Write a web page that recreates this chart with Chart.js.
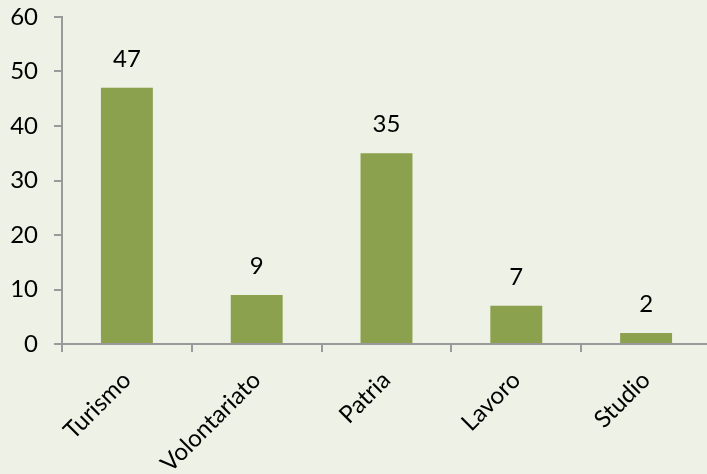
<!DOCTYPE html>
<html>
<head>
<meta charset="utf-8">
<script src="https://cdn.jsdelivr.net/npm/chart.js@4/dist/chart.umd.min.js"></script>
<style>
  html, body { margin: 0; padding: 0; background: #EEF1E5; overflow: hidden; }
  #wrap { position: relative; width: 711px; height: 474px; }
</style>
</head>
<body>
<div id="wrap"><canvas id="c"></canvas></div>
<script>
const categories = ["Turismo", "Volontariato", "Patria", "Lavoro", "Studio"];
const values = [47, 9, 35, 7, 2];
const yTicks = [0, 10, 20, 30, 40, 50, 60];

const FONT = "Lato, 'Open Sans', sans-serif";
const FSIZE = 24;

const valueLabels = {
  id: 'valueLabels',
  afterDatasetsDraw(chart) {
    const ctx = chart.ctx;
    const meta = chart.getDatasetMeta(0);
    ctx.save();
    ctx.fillStyle = '#000';
    ctx.font = FSIZE + "px " + FONT;
    ctx.textAlign = 'center';
    ctx.textBaseline = 'middle';
    meta.data.forEach((bar, i) => {
      ctx.fillText(String(values[i]), bar.x, bar.y - 29);
    });
    ctx.restore();
  }
};

new Chart(document.getElementById('c'), {
  type: 'bar',
  data: {
    labels: categories,
    datasets: [{
      data: values,
      backgroundColor: '#8BA14D',
      borderWidth: 0,
      categoryPercentage: 0.8,
      barPercentage: 0.5
    }]
  },
  options: {
    responsive: true,
    maintainAspectRatio: false,
    animation: false,
    layout: { padding: { top: 17, right: 0, left: 0, bottom: 0 } },
    plugins: { legend: { display: false }, tooltip: { enabled: false } },
    scales: {
      x: {
        afterFit(scale) { scale.height = 130; scale.paddingTop = 0; },
        grid: {
          offset: true,
          drawOnChartArea: false,
          drawTicks: true,
          tickLength: 8,
          color: '#9a9a9a',
          lineWidth: 2
        },
        border: { color: '#9a9a9a', width: 2 },
        ticks: {
          color: '#000',
          font: { family: FONT, size: FSIZE },
          maxRotation: 45,
          minRotation: 45,
          autoSkip: false,
          padding: 14
        }
      },
      y: {
        min: 0,
        max: 60,
        afterFit(scale) { scale.width = 62; scale.paddingTop = 0; scale.paddingBottom = 0; },
        afterBuildTicks(scale) { scale.ticks = yTicks.map(v => ({ value: v })); },
        grid: {
          drawOnChartArea: false,
          drawTicks: true,
          tickLength: 8,
          color: '#9a9a9a',
          lineWidth: 2
        },
        border: { color: '#9a9a9a', width: 2 },
        ticks: {
          color: '#000',
          font: { family: FONT, size: FSIZE },
          padding: 16
        }
      }
    }
  },
  plugins: [valueLabels]
});
</script>
</body>
</html>
